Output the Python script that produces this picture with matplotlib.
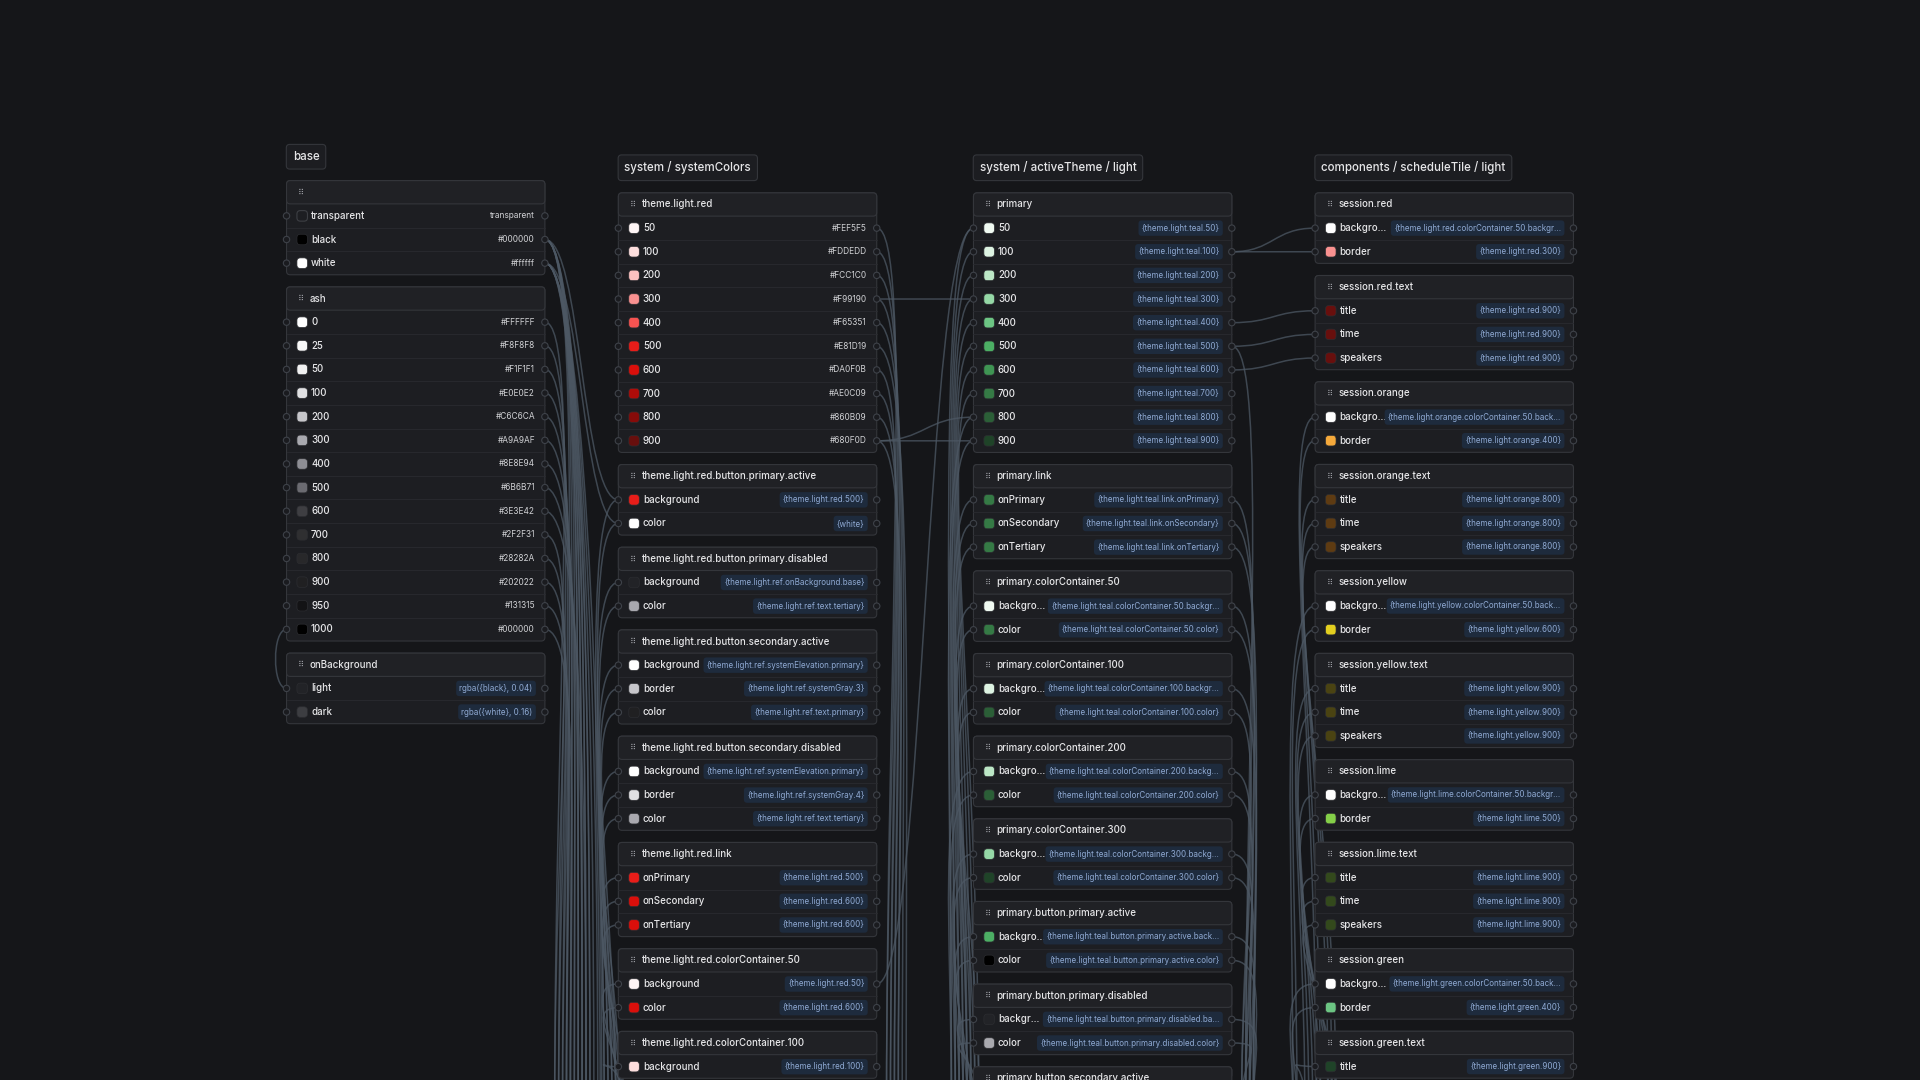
import matplotlib.pyplot as plt
from matplotlib.patches import FancyBboxPatch, Circle
from matplotlib.path import Path
from matplotlib.patches import PathPatch

plt.rcParams['font.family'] = ['Inter', 'DejaVu Sans']

BG = '#151619'
CARD = '#1d1e22'
HEAD = '#202125'
BORDER = '#34363b'
EDGE = '#4d5864'
TXT = '#e6e6e8'
CHIP_BG = '#1e2b3d'
CHIP_TX = '#8fa9d2'

# ---- data ----
groups = ["base", "system / systemColors", "system / activeTheme / light",
          "components / scheduleTile / light"]

col_base = [
    ("", [("transparent", "transparent", None), ("black", "#000000", "#000000"),
          ("white", "#ffffff", "#ffffff")]),
    ("ash", [("0", "#FFFFFF", "#FFFFFF"), ("25", "#F8F8F8", "#F8F8F8"),
             ("50", "#F1F1F1", "#F1F1F1"), ("100", "#E0E0E2", "#E0E0E2"),
             ("200", "#C6C6CA", "#C6C6CA"), ("300", "#A9A9AF", "#A9A9AF"),
             ("400", "#8E8E94", "#8E8E94"), ("500", "#6B6B71", "#6B6B71"),
             ("600", "#3E3E42", "#3E3E42"), ("700", "#2F2F31", "#2F2F31"),
             ("800", "#28282A", "#28282A"), ("900", "#202022", "#202022"),
             ("950", "#131315", "#131315"), ("1000", "#000000", "#000000")]),
    ("onBackground", [("light", "rgba({black}, 0.04)", "#222327"),
                      ("dark", "rgba({white}, 0.16)", "#3c3d41")]),
]

col_system = [
    ("theme.light.red", [("50", "#FEF5F5", "#FEF5F5"), ("100", "#FDDEDD", "#FDDEDD"),
                         ("200", "#FCC1C0", "#FCC1C0"), ("300", "#F99190", "#F99190"),
                         ("400", "#F65351", "#F65351"), ("500", "#E81D19", "#E81D19"),
                         ("600", "#DA0F0B", "#DA0F0B"), ("700", "#AE0C09", "#AE0C09"),
                         ("800", "#860B09", "#860B09"), ("900", "#680F0D", "#680F0D")]),
    ("theme.light.red.button.primary.active",
     [("background", "{theme.light.red.500}", "#E81D19"), ("color", "{white}", "#ffffff")]),
    ("theme.light.red.button.primary.disabled",
     [("background", "{theme.light.ref.onBackground.base}", "#222327"),
      ("color", "{theme.light.ref.text.tertiary}", "#A9A9AF")]),
    ("theme.light.red.button.secondary.active",
     [("background", "{theme.light.ref.systemElevation.primary}", "#ffffff"),
      ("border", "{theme.light.ref.systemGray.3}", "#C6C6CA"),
      ("color", "{theme.light.ref.text.primary}", "#202022")]),
    ("theme.light.red.button.secondary.disabled",
     [("background", "{theme.light.ref.systemElevation.primary}", "#ffffff"),
      ("border", "{theme.light.ref.systemGray.4}", "#E0E0E2"),
      ("color", "{theme.light.ref.text.tertiary}", "#A9A9AF")]),
    ("theme.light.red.link",
     [("onPrimary", "{theme.light.red.500}", "#E81D19"),
      ("onSecondary", "{theme.light.red.600}", "#DA0F0B"),
      ("onTertiary", "{theme.light.red.600}", "#DA0F0B")]),
    ("theme.light.red.colorContainer.50",
     [("background", "{theme.light.red.50}", "#FEF5F5"),
      ("color", "{theme.light.red.600}", "#DA0F0B")]),
    ("theme.light.red.colorContainer.100",
     [("background", "{theme.light.red.100}", "#FDDEDD")]),
]

teal = ["#F0FAF2", "#DDF3E2", "#BCE7C6", "#95D8A6", "#6CC583",
        "#4CAF64", "#3F9553", "#357A45", "#2B5F37", "#1F4328"]
teal_steps = ["50", "100", "200", "300", "400", "500", "600", "700", "800", "900"]

col_theme = [
    ("primary", [(s, "{theme.light.teal.%s}" % s, c) for s, c in zip(teal_steps, teal)]),
    ("primary.link",
     [("onPrimary", "{theme.light.teal.link.onPrimary}", "#357A45"),
      ("onSecondary", "{theme.light.teal.link.onSecondary}", "#357A45"),
      ("onTertiary", "{theme.light.teal.link.onTertiary}", "#357A45")]),
    ("primary.colorContainer.50",
     [("backgro...", "{theme.light.teal.colorContainer.50.backgr...", "#F0FAF2"),
      ("color", "{theme.light.teal.colorContainer.50.color}", "#357A45")]),
    ("primary.colorContainer.100",
     [("backgro...", "{theme.light.teal.colorContainer.100.backgr...", "#DDF3E2"),
      ("color", "{theme.light.teal.colorContainer.100.color}", "#2B5F37")]),
    ("primary.colorContainer.200",
     [("backgro...", "{theme.light.teal.colorContainer.200.backg...", "#BCE7C6"),
      ("color", "{theme.light.teal.colorContainer.200.color}", "#2B5F37")]),
    ("primary.colorContainer.300",
     [("backgro...", "{theme.light.teal.colorContainer.300.backg...", "#95D8A6"),
      ("color", "{theme.light.teal.colorContainer.300.color}", "#1F4328")]),
    ("primary.button.primary.active",
     [("backgro...", "{theme.light.teal.button.primary.active.back...", "#4CAF64"),
      ("color", "{theme.light.teal.button.primary.active.color}", "#000000")]),
    ("primary.button.primary.disabled",
     [("backgr...", "{theme.light.teal.button.primary.disabled.ba...", "#222327"),
      ("color", "{theme.light.teal.button.primary.disabled.color}", "#A9A9AF")]),
    ("primary.button.secondary.active", []),
]

def session(name, border_ref, border_col, text_ref, text_col, bg_ref):
    return [("session." + name,
             [("backgro...", bg_ref, "#FEFEFE"), ("border", border_ref, border_col)]),
            ("session." + name + ".text",
             [("title", text_ref, text_col), ("time", text_ref, text_col),
              ("speakers", text_ref, text_col)])]

col_comp = (session("red", "{theme.light.red.300}", "#F99190", "{theme.light.red.900}", "#680F0D",
                    "{theme.light.red.colorContainer.50.backgr...")
            + session("orange", "{theme.light.orange.400}", "#F5A93B", "{theme.light.orange.800}",
                      "#5e3b12", "{theme.light.orange.colorContainer.50.back...")
            + session("yellow", "{theme.light.yellow.600}", "#E3CF1F", "{theme.light.yellow.900}",
                      "#4a4312", "{theme.light.yellow.colorContainer.50.back...")
            + session("lime", "{theme.light.lime.500}", "#84CF48", "{theme.light.lime.900}",
                      "#33491c", "{theme.light.lime.colorContainer.50.backgr...")
            + session("green", "{theme.light.green.400}", "#6CC583", "{theme.light.green.900}",
                      "#1F4328", "{theme.light.green.colorContainer.50.back..."))
col_comp = col_comp[:-1] + [("session.green.text", [("title", "{theme.light.green.900}", "#1F4328")])]

columns = [col_base, col_system, col_theme, col_comp]

# edges: (col, card, row, side) -> (col, card, row, side) or ("below", col, k)
edges = []
for r in (1, 2):
    for k in range(7):
        edges.append(((0, 0, r, 'r'), ("below", 0, k + r * 3)))
for r in range(14):
    edges.append(((0, 1, r, 'r'), ("below", 0, r % 9)))
edges += [((0, 0, 2, 'r'), (1, 1, 1, 'l')), ((0, 0, 1, 'r'), (1, 1, 0, 'l')),
          ((0, 1, 13, 'l'), (0, 2, 0, 'l'))]
for r in range(10):
    edges.append(((1, 0, r, 'r'), ("below", 1, r % 6)))
edges += [((1, 0, 3, 'r'), (2, 0, 3, 'l')), ((1, 0, 9, 'r'), (2, 0, 8, 'l')),
          ((1, 0, 9, 'r'), (2, 0, 9, 'l')), ((1, 6, 0, 'r'), (2, 0, 0, 'l'))]
for c in range(1, 8):
    for r in range(len(columns[1][c][1])):
        edges.append((("below", 0.6, c + r), (1, c, r, 'l')))
for c in range(len(col_theme) - 1):
    for r in range(len(col_theme[c][1])):
        edges.append((("below", 1.6, (c * 2 + r) % 8), (2, c, r, 'l')))
for c in range(1, len(col_theme) - 1):
    for r in range(len(col_theme[c][1])):
        edges.append(((2, c, r, 'r'), ("below", 2, (c + r) % 4)))
edges += [((2, 0, 1, 'r'), (3, 0, 0, 'l')), ((2, 0, 1, 'r'), (3, 0, 1, 'l')),
          ((2, 0, 4, 'r'), (3, 1, 0, 'l')), ((2, 0, 5, 'r'), (3, 1, 1, 'l')),
          ((2, 0, 6, 'r'), (3, 1, 2, 'l')), ((2, 0, 5, 'r'), ("below", 2, 1))]
for c in range(2, len(col_comp)):
    for r in range(len(col_comp[c][1])):
        edges.append((("below", 2.3, (c * 3 + r) % 12), (3, c, r, 'l')))

# ---- layout ----
COL_X = [234, 505, 795, 1074]
CARD_W = 211
LABEL_Y = [128, 137, 137, 137]
FIRST_HEAD = [157, 167, 167, 167]
STEP = 19.3
GAP = 28.9

fig = plt.figure(figsize=(19.2, 10.8), dpi=100, facecolor=BG)
ax = fig.add_axes([0, 0, 1, 1])
ax.set_xlim(0, 1568)
ax.set_ylim(882, 0)
ax.axis('off')
ax.set_facecolor(BG)

ports = {}
cards_geo = []
for ci, col in enumerate(columns):
    x = COL_X[ci]
    hy = FIRST_HEAD[ci]
    for ki, (title, rows) in enumerate(col):
        top = hy - 9.5
        bottom = hy + STEP * len(rows) + 9.5 - (0 if rows else 9.5)
        cards_geo.append((ci, ki, x, top, bottom, hy, title, rows))
        for ri in range(len(rows)):
            y = hy + STEP * (ri + 1)
            ports[(ci, ki, ri, 'l')] = (x, y)
            ports[(ci, ki, ri, 'r')] = (x + CARD_W, y)
        hy = hy + STEP * len(rows) + GAP

def point(p):
    if p[0] == "below":
        colpos, k = p[1], p[2]
        base_x = COL_X[int(colpos)] + CARD_W + 8
        if colpos % 1:
            base_x = COL_X[int(colpos) + 1] - 18
        return (base_x + k * 3.2, 900), (0, -1)
    x, y = ports[p]
    return (x, y), ((1, 0) if p[3] == 'r' else (-1, 0))

for a, b in edges:
    (x0, y0), d0 = point(a)
    (x1, y1), d1 = point(b)
    s = max(30, abs(x1 - x0) * 0.5)
    if a[0] != "below" and b[0] != "below" and a[3] == b[3]:
        s = 12
    sv = max(40, abs(y1 - y0) * 0.5)
    c0 = (x0 + d0[0] * s, y0 + d0[1] * sv)
    c1 = (x1 + d1[0] * s, y1 + d1[1] * sv)
    path = Path([(x0, y0), c0, c1, (x1, y1)],
                [Path.MOVETO, Path.CURVE4, Path.CURVE4, Path.CURVE4])
    ax.add_patch(PathPatch(path, fc='none', ec=EDGE, lw=1.1, alpha=0.75, zorder=1))

# group labels
for ci, g in enumerate(groups):
    ax.text(COL_X[ci] + 5, LABEL_Y[ci], g, color=TXT, fontsize=8.3, va='center',
            ha='left', zorder=5, fontweight='medium',
            bbox=dict(boxstyle='round,pad=0.55,rounding_size=0.3', fc='#1c1d21',
                      ec=BORDER, lw=0.8))

for ci, ki, x, top, bottom, hy, title, rows in cards_geo:
    ax.add_patch(FancyBboxPatch((x, top), CARD_W, bottom - top,
                                boxstyle='round,pad=0,rounding_size=3',
                                fc=CARD, ec=BORDER, lw=0.8, zorder=2))
    ax.add_patch(FancyBboxPatch((x, top), CARD_W, 19,
                                boxstyle='round,pad=0,rounding_size=3',
                                fc=HEAD, ec=BORDER, lw=0.8, zorder=2.1))
    ax.text(x + 12, hy, "⠿", color='#9a9ca2', fontsize=6, va='center', ha='center',
            family=['DejaVu Sans'], zorder=4)
    ax.text(x + 19, hy, title, color=TXT, fontsize=7, va='center', ha='left', zorder=4,
            fontweight='medium')
    for ri, (lab, val, sw) in enumerate(rows):
        y = hy + STEP * (ri + 1)
        if ri > 0:
            ax.plot([x, x + CARD_W], [y - STEP / 2] * 2, color='#2a2b30', lw=0.6, zorder=2.5)
        ax.add_patch(FancyBboxPatch((x + 8.5, y - 4.3), 8.6, 8.6,
                                    boxstyle='round,pad=0,rounding_size=2.8',
                                    fc='none' if sw is None else sw,
                                    ec='#3d3f44' if sw is None else '#2c2d31',
                                    lw=0.8 if sw is None else 0.5, zorder=3))
        ax.text(x + 20, y, lab, color=TXT, fontsize=7, va='center', ha='left', zorder=4,
                fontweight='medium')
        chip = val.startswith('{') or val.startswith('rgba')
        if chip:
            ax.text(x + CARD_W - 10, y, val, color=CHIP_TX, fontsize=5.8, va='center',
                    ha='right', zorder=4,
                    bbox=dict(boxstyle='round,pad=0.4,rounding_size=0.4', fc=CHIP_BG,
                              ec='none'))
        else:
            ax.text(x + CARD_W - 8, y, val, color='#d0d1d4', fontsize=6, va='center',
                    ha='right', zorder=4)
        for px in (x, x + CARD_W):
            ax.add_patch(Circle((px, y), 2.6, fc='#1a1b1f', ec='#3e4249', lw=0.8, zorder=4.5))

fig.savefig('out.png', dpi=100, facecolor=BG)
